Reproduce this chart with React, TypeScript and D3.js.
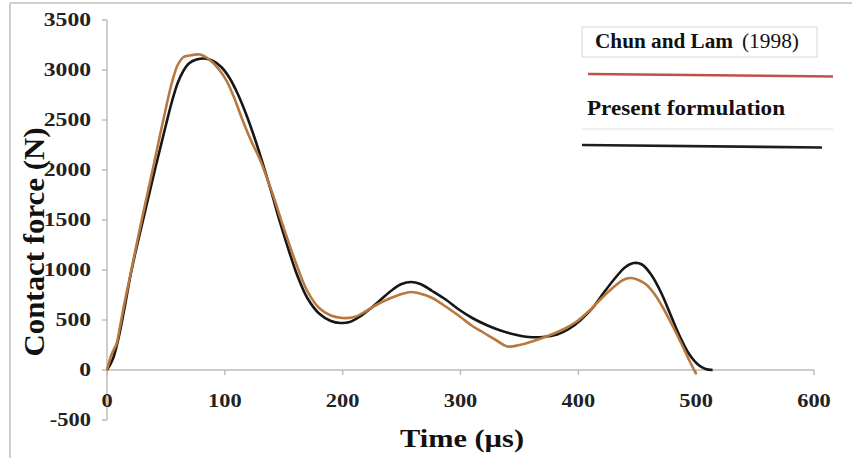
import React from "react";
import * as d3 from "d3";

// ---- data ----
const xTicks = [0, 100, 200, 300, 400, 500, 600];
const yTicks = [-500, 0, 500, 1000, 1500, 2000, 2500, 3000, 3500];

const presentT = [0, 5, 10, 15, 20, 25, 30, 35, 40, 45, 50, 55, 60, 65, 70, 76, 83, 90, 97, 104, 111, 118, 125, 131, 139, 147, 155, 162, 170, 180, 190, 198, 206, 214, 222, 232, 242, 250, 258, 266, 276, 288, 298, 310, 322, 334, 346, 358, 370, 382, 392, 402, 412, 422, 432, 440, 447, 454, 462, 470, 478, 486, 494, 502, 508, 514];
const presentF = [0, 110, 330, 630, 950, 1220, 1470, 1720, 1970, 2210, 2450, 2680, 2870, 2995, 3070, 3105, 3115, 3090, 3030, 2920, 2760, 2560, 2330, 2110, 1800, 1470, 1170, 930, 720, 565, 490, 470, 480, 530, 600, 700, 800, 860, 880, 860, 790, 700, 610, 520, 450, 395, 355, 330, 330, 355, 410, 500, 620, 780, 930, 1030, 1070, 1055, 950, 780, 560, 340, 160, 50, 10, 0];

const chunT = [0, 4, 8, 11, 15, 20, 25, 30, 35, 40, 45, 50, 55, 60, 65, 70, 79, 85, 91, 97, 102, 108, 115, 122, 130, 140, 150, 160, 170, 180, 190, 200, 210, 220, 230, 240, 250, 258, 267, 276, 288, 300, 310, 320, 330, 340, 350, 362, 374, 386, 398, 410, 420, 430, 438, 444, 450, 457, 464, 472, 480, 488, 494, 500];
const chunF = [0, 160, 260, 430, 680, 960, 1250, 1530, 1800, 2070, 2350, 2620, 2870, 3050, 3130, 3145, 3155, 3120, 3060, 2975, 2880, 2720, 2500, 2300, 2100, 1780, 1420, 1080, 790, 620, 545, 520, 530, 590, 660, 715, 760, 780, 760, 720, 630, 530, 440, 370, 300, 235, 250, 290, 340, 400, 480, 600, 720, 830, 900, 920, 905, 860, 770, 620, 440, 250, 100, -40];

const legendLabels = ["Chun and Lam", "(1998)", "Present formulation"];
const axisTitles = ["Time (µs)", "Contact force (N)"];

const W = 852;
const H = 458;
const FONT = "'Liberation Serif', 'Times New Roman', serif";

export default function App() {
  const x = d3.scaleLinear().domain([0, 600]).range([107, 814]);
  const y = d3.scaleLinear().domain([-500, 3500]).range([420, 20]);

  const line = d3
    .line<[number, number]>()
    .x((d) => x(d[0]))
    .y((d) => y(d[1]))
    .curve(d3.curveCatmullRom.alpha(0.5));

  const present = presentT.map((t, i) => [t, presentF[i]] as [number, number]);
  const chun = chunT.map((t, i) => [t, chunF[i]] as [number, number]);

  const axisColor = "#bdbdbd";

  return (
    <svg
      width={W}
      height={H}
      style={{ position: "absolute", left: 0, top: 0, background: "#fff" }}
      fontFamily={FONT}
    >
      <rect x={0} y={0} width={W} height={H} fill="#fff" />
      {/* outer frame */}
      <line x1={10} y1={3} x2={W} y2={3} stroke="#cfcfcf" strokeWidth={2} />
      <line x1={10} y1={3} x2={10} y2={H} stroke="#cfcfcf" strokeWidth={2} />

      {/* y axis */}
      <line x1={x(0)} y1={y(3500)} x2={x(0)} y2={y(-500)} stroke={axisColor} strokeWidth={1.5} />
      {yTicks.map((v) => {
        const label = String(v);
        return (
          <g key={"y" + v}>
            <line x1={x(0) - 5} x2={x(0)} y1={y(v)} y2={y(v)} stroke={axisColor} strokeWidth={1.5} />
            <text
              x={91}
              y={y(v) + 6}
              textAnchor="end"
              fontSize={18}
              fontWeight="bold"
              fill="#222"
              textLength={label.length * 11.8 - (v < 0 ? 6 : 0)}
              lengthAdjust="spacingAndGlyphs"
            >
              {label}
            </text>
          </g>
        );
      })}

      {/* x axis */}
      <line x1={x(0)} y1={y(0)} x2={x(600)} y2={y(0)} stroke={axisColor} strokeWidth={1.5} />
      {xTicks.map((t) => {
        const label = String(t);
        return (
          <g key={"x" + t}>
            <line x1={x(t)} x2={x(t)} y1={y(0)} y2={y(0) + 5} stroke={axisColor} strokeWidth={1.5} />
            <text
              x={x(t)}
              y={407}
              textAnchor="middle"
              fontSize={18}
              fontWeight="bold"
              fill="#222"
              textLength={label.length * 11.2}
              lengthAdjust="spacingAndGlyphs"
            >
              {label}
            </text>
          </g>
        );
      })}

      {/* axis titles */}
      <text
        x={462}
        y={447}
        textAnchor="middle"
        fontSize={26}
        fontWeight="bold"
        fill="#111"
        textLength={124}
        lengthAdjust="spacingAndGlyphs"
      >
        {axisTitles[0]}
      </text>
      <text
        transform={`translate(44,242) rotate(-90)`}
        textAnchor="middle"
        fontSize={30}
        fontWeight="bold"
        fill="#111"
        textLength={229}
        lengthAdjust="spacingAndGlyphs"
      >
        {axisTitles[1]}
      </text>

      {/* series */}
      <path d={line(present) || ""} fill="none" stroke="#161616" strokeWidth={2.6} strokeLinejoin="round" />
      <path d={line(chun) || ""} fill="none" stroke="#b8783f" strokeWidth={2.6} strokeLinejoin="round" />

      {/* legend */}
      <rect x={582} y={27} width={235} height={30} fill="none" stroke="#d6d6d6" strokeWidth={1} />
      <text
        x={595}
        y={48}
        fontSize={20}
        fontWeight="bold"
        fill="#111"
        textLength={138}
        lengthAdjust="spacingAndGlyphs"
      >
        {legendLabels[0]}
      </text>
      <text x={742} y={48} fontSize={21} fill="#111" textLength={57} lengthAdjust="spacingAndGlyphs">
        {legendLabels[1]}
      </text>
      <line x1={588} y1={74} x2={833} y2={76.5} stroke="#c0504d" strokeWidth={2.6} />
      <text
        x={587}
        y={115}
        fontSize={20}
        fontWeight="bold"
        fill="#111"
        textLength={198}
        lengthAdjust="spacingAndGlyphs"
      >
        {legendLabels[2]}
      </text>
      <line x1={582} y1={129} x2={833} y2={129} stroke="#e0e0e0" strokeWidth={1} />
      <line x1={582} y1={145} x2={822} y2={147.5} stroke="#1e1e1e" strokeWidth={2.6} />
    </svg>
  );
}
